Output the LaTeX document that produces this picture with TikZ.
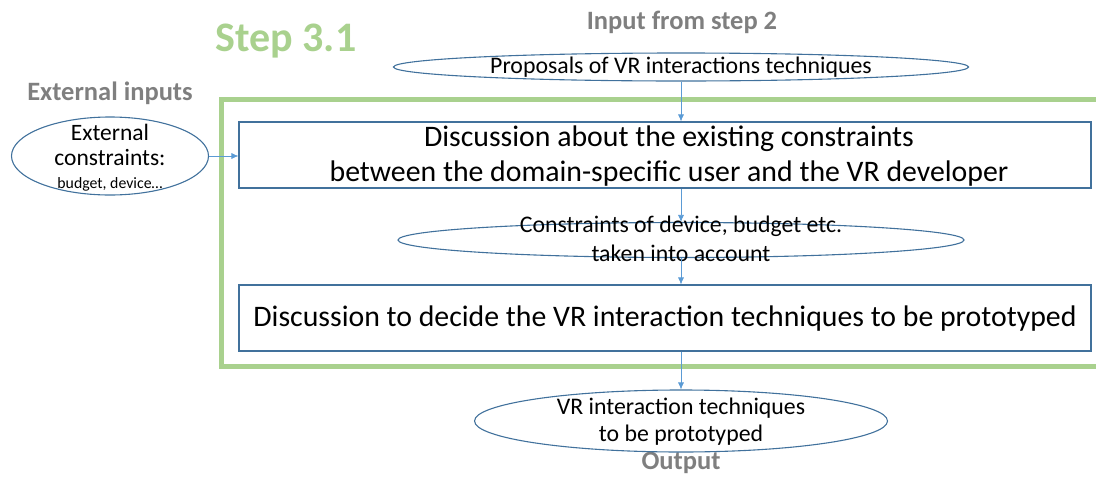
\documentclass[tikz,border=0pt]{standalone}
\usepackage{fontspec}
\setmainfont{Carlito}
\usetikzlibrary{shapes.geometric,arrows.meta}
\definecolor{edgeblue}{HTML}{41719C}
\definecolor{arrowblue}{HTML}{5B9BD5}
\definecolor{framegreen}{HTML}{A9D18E}
\definecolor{headgray}{HTML}{7F7F7F}
\tikzset{
  ell/.style={ellipse, draw=edgeblue, line width=1.1pt, inner sep=0pt},
  boxnode/.style={rectangle, draw=edgeblue, line width=1.1pt, inner sep=0pt},
  flow/.style={draw=arrowblue, line width=0.7pt, -{Latex[length=7pt,width=6pt]}},
  head/.style={text=headgray, font=\bfseries\fontsize{26.5}{30}\selectfont},
  ftxt/.style={align=center, inner sep=0pt},
  bigtxt/.style={ftxt, font=\fontsize{29.8}{34}\selectfont},
  midtxt/.style={ftxt, font=\fontsize{23.8}{28}\selectfont},
}
\begin{document}
\begin{tikzpicture}[x=1pt,y=-1pt]
\useasboundingbox (0,0) rectangle (1096,477);
\clip (0,0) rectangle (1096,477);
% green frame (open on the right)
\draw[framegreen, line width=5pt] (1100,99.5) -- (221,99.5) -- (221,366) -- (1100,366);
% titles
\node[text=framegreen, font=\bfseries\fontsize{42}{46}\selectfont] (step) at (286,41) {Step 3.1};
\node[head] (inhead) at (682,22) {Input from step 2};
\node[head] (exthead) at (110,93) {External inputs};
\node[head] (outhead) at (681,462.5) {Output};
% input ellipse
\node[ell, minimum width=575pt, minimum height=28pt] (e1) at (681,67) {};
\node[midtxt] (e1t) at (681,67) {Proposals of VR interactions techniques};
% external ellipse
\node[ell, minimum width=197pt, minimum height=78pt] (ex) at (110,156) {};
\node[ftxt, font=\fontsize{23.5}{26}\selectfont] (ext1) at (110,132) {External};
\node[ftxt, font=\fontsize{23.5}{26}\selectfont] (ext2) at (110,158) {constraints:};
\node[ftxt, font=\fontsize{15.8}{18}\selectfont] (ext3) at (110,184) {budget, device…};
% box 1
\node[boxnode, minimum width=852pt, minimum height=66pt] (b1) at (665,155) {};
\node[bigtxt] (b1a) at (669,139) {Discussion about the existing constraints};
\node[bigtxt] (b1b) at (669,174) {between the domain-specific user and the VR developer};
% ellipse 2
\node[ell, minimum width=566pt, minimum height=35pt] (e2) at (681,240) {};
\node[midtxt] (e2a) at (681,226) {Constraints of device, budget etc.};
\node[midtxt] (e2b) at (681,253) {taken into account};
% box 2
\node[boxnode, minimum width=852pt, minimum height=66pt] (b2) at (665,318) {};
\node[bigtxt] (b2t) at (665,319) {Discussion to decide the VR interaction techniques to be prototyped};
% output ellipse
\node[ell, minimum width=413pt, minimum height=62pt] (e3) at (681,421) {};
\node[midtxt] (e3a) at (681,408) {VR interaction techniques};
\node[midtxt] (e3b) at (681,435) {to be prototyped};
% connectors
\draw[flow] (e1.south) -- (e1.south |- b1.north);
\draw[flow] (ex.east) -- (b1.west |- ex.east);
\draw[flow] (e2.north |- b1.south) -- (e2.north);
\draw[flow] (e2.south) -- (e2.south |- b2.north);
\draw[flow] (e3.north |- b2.south) -- (e3.north);
\end{tikzpicture}
\end{document}
